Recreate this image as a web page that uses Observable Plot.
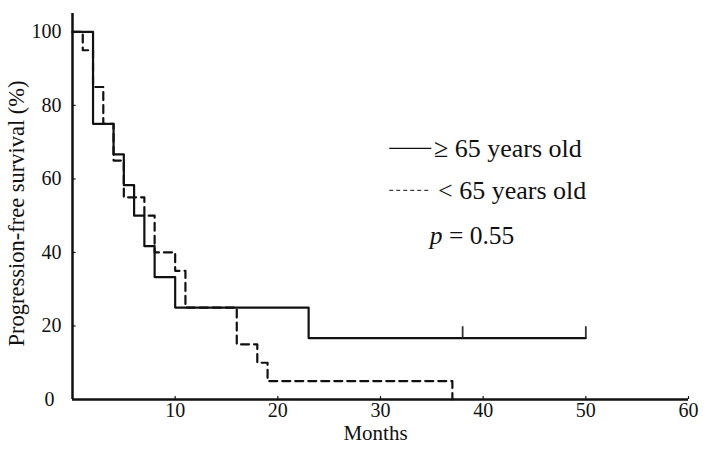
<!DOCTYPE html>
<html>
<head>
<meta charset="utf-8">
<script src="https://cdn.jsdelivr.net/npm/d3@7"></script>
<script src="https://cdn.jsdelivr.net/npm/@observablehq/plot@0.6"></script>
<style>
  html, body { margin: 0; padding: 0; background: #fff; }
  #chart { width: 708px; height: 450px; }
  #chart svg text { font-family: "Liberation Serif", "Times New Roman", serif; }
</style>
</head>
<body>
<div id="chart"></div>
<script>
// ≥ 65 years old (solid)
const oldTimes = [0, 2, 4, 5, 6, 7, 8, 10, 23, 50];
const oldSurv  = [100, 75, 66.7, 58.3, 50, 41.7, 33.3, 25, 16.7, 16.7];
const oldCensor = [38, 50];
// < 65 years old (dashed)
const youngTimes = [0, 1, 2, 3, 4, 5, 7, 8, 10, 11, 16, 18, 19, 37];
const youngSurv  = [100, 95, 85, 75, 65, 55, 50, 40, 35, 25, 15, 10, 5, 0];

const xTicks = [10, 20, 30, 40, 50, 60];
const yTicks = [20, 40, 60, 80, 100];
const legendLabels = ["\u2265 65 years old", "< 65 years old"];
const pValue = "0.55";

const oldData = oldTimes.map((t, i) => ({t, s: oldSurv[i]}));
const youngData = youngTimes.map((t, i) => ({t, s: youngSurv[i]}));

const FONT = "Liberation Serif";
// legend layout in data units
const L = {x1: 30.9, x2: 35.0, y1: 68.3, y2: 56.9, tx1: 35.2, tx2: 35.6, py: 44.6, px: 34.8};

const chart = Plot.plot({
  width: 708,
  height: 450,
  marginLeft: 72,
  marginRight: 20,
  marginTop: 13,
  marginBottom: 51,
  style: {fontFamily: FONT, background: "#fff"},
  x: {domain: [0, 60], axis: null},
  y: {domain: [0, 105], axis: null},
  marks: [
    // axis lines
    Plot.ruleY([0], {x1: 0, x2: 60, stroke: "#111", strokeWidth: 2.5}),
    Plot.ruleX([0], {y1: 0, y2: 105, stroke: "#111", strokeWidth: 2.5}),
    // inward ticks
    Plot.ruleX(xTicks, {x: d => d, y1: 0, y2: 0.8, stroke: "#111", strokeWidth: 1.2}),
    Plot.ruleY(yTicks, {y: d => d, x1: 0, x2: 0.35, stroke: "#111", strokeWidth: 1.2}),
    // tick labels
    Plot.text(xTicks, {x: d => d, frameAnchor: "bottom", dy: 17, textAnchor: "middle", text: d => String(d), fontSize: 20, fontFamily: FONT, fill: "#111"}),
    Plot.text(yTicks, {y: d => d, frameAnchor: "left", dx: -11, textAnchor: "end", text: d => String(d), fontSize: 20, fontFamily: FONT, fill: "#111"}),
    Plot.text(["0"], {frameAnchor: "bottom-left", dx: -18, dy: 6, textAnchor: "end", text: d => d, fontSize: 20, fontFamily: FONT, fill: "#111"}),
    // axis titles
    Plot.text(["Months"], {frameAnchor: "bottom", dx: -5, dy: 40, textAnchor: "middle", text: d => d, fontSize: 21, fontFamily: FONT, fill: "#111"}),
    Plot.text(["Progression-free survival (%)"], {frameAnchor: "left", dx: -56, dy: 7, rotate: -90, textAnchor: "middle", text: d => d, fontSize: 22.5, fontFamily: FONT, fill: "#111"}),
    // curves
    Plot.line(youngData, {x: "t", y: "s", curve: "step-after", stroke: "#111", strokeWidth: 2.2, strokeDasharray: "8,5"}),
    Plot.line(oldData, {x: "t", y: "s", curve: "step-after", stroke: "#111", strokeWidth: 2.2}),
    Plot.ruleX(oldCensor, {x: d => d, y1: 16.7, y2: 19.8, stroke: "#333", strokeWidth: 1.8}),
    // legend
    Plot.ruleY([L.y1], {x1: L.x1, x2: L.x2, stroke: "#111", strokeWidth: 1.4}),
    Plot.ruleY([L.y2], {x1: L.x1, x2: L.x2, stroke: "#111", strokeWidth: 1, strokeDasharray: "4,3"}),
    Plot.text([legendLabels[0]], {x: L.tx1, y: L.y1, text: d => d, textAnchor: "start", fontSize: 26, fontFamily: FONT, fill: "#111"}),
    Plot.text([legendLabels[1]], {x: L.tx2, y: L.y2, text: d => d, textAnchor: "start", fontSize: 26, fontFamily: FONT, fill: "#111"}),
    Plot.text([pValue], {x: L.px, y: L.py, text: d => d, textAnchor: "start", fontSize: 25.5, fontFamily: FONT, fill: "#111"})
  ]
});
// italic p in the p-value text
chart.querySelectorAll("text").forEach(t => {
  if (t.textContent === pValue) {
    t.textContent = "";
    const ns = "http://www.w3.org/2000/svg";
    const a = document.createElementNS(ns, "tspan");
    a.setAttribute("font-style", "italic");
    a.textContent = "p";
    const b = document.createElementNS(ns, "tspan");
    b.textContent = " = " + pValue;
    t.appendChild(a); t.appendChild(b);
  }
});
document.getElementById("chart").appendChild(chart);
</script>
</body>
</html>
